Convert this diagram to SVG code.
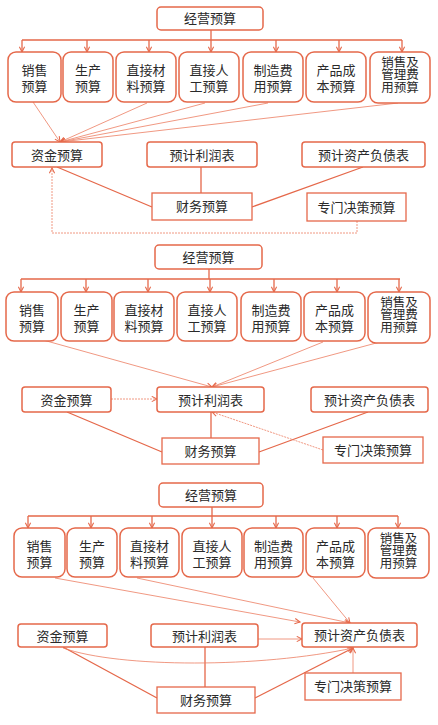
<svg xmlns="http://www.w3.org/2000/svg" width="438" height="725" viewBox="0 0 438 725">
<style>
.b{fill:#fff;stroke:#E5684A;stroke-width:1.5}
.s{fill:#fff;stroke:#E5684A;stroke-width:1.3}
.t{font-family:"Liberation Serif","Noto Sans CJK SC",serif;font-size:13px;fill:#2a2a2a;text-anchor:middle}
.t3{font-size:12.5px}
.c{fill:none;stroke:#E5684A;stroke-width:1.3}
.f{fill:none;stroke:#EC7E62;stroke-width:0.8}
.d{fill:none;stroke:#EC7E62;stroke-width:0.8;stroke-dasharray:2,1}
</style>
<defs>
<marker id="a" viewBox="0 0 8 8" refX="7" refY="4" markerWidth="7" markerHeight="7" orient="auto" markerUnits="userSpaceOnUse">
<path d="M1,1 L7,4 L1,7" fill="none" stroke="#E5684A" stroke-width="1.2"/>
</marker>
</defs>
<rect width="438" height="725" fill="#fff"/>

<!-- ===== Section 1 ===== -->
<g id="connectors1">
<path class="c" d="M211,30 V40 M22,40 H402"/>
<path class="c" marker-end="url(#a)" d="M22,40 V52"/>
<path class="c" marker-end="url(#a)" d="M87,40 V52"/>
<path class="c" marker-end="url(#a)" d="M149,40 V52"/>
<path class="c" marker-end="url(#a)" d="M211,40 V52"/>
<path class="c" marker-end="url(#a)" d="M276,40 V52"/>
<path class="c" marker-end="url(#a)" d="M339,40 V52"/>
<path class="c" marker-end="url(#a)" d="M402,40 V52"/>
<path class="f" marker-end="url(#a)" d="M33,102 L60,142"/>
<path class="f" marker-end="url(#a)" d="M147,103 L60,142"/>
<path class="f" marker-end="url(#a)" d="M205,103 L60,142"/>
<path class="f" marker-end="url(#a)" d="M268,103 L60,142"/>
<path class="f" marker-end="url(#a)" d="M398,103 L60,142"/>
<path class="c" d="M57,167 L152,207 M201,167 V193 M363,167 L252,207"/>
<path class="d" marker-end="url(#a)" d="M357,221 V233 H52 V168"/>
</g>
<g id="s1-top"><rect class="b" x="157" y="7" width="106" height="23" rx="4"/><text class="t" x="210" y="23">经营预算</text></g>
<g id="s1-n1"><rect class="b" x="8" y="52" width="53" height="50" rx="8"/><text class="t" x="34.5" y="75">销售<tspan x="34.5" dy="16">预算</tspan></text></g>
<g id="s1-n2"><rect class="b" x="63" y="52" width="50" height="50" rx="8"/><text class="t" x="88" y="75">生产<tspan x="88" dy="16">预算</tspan></text></g>
<g id="s1-n3"><rect class="b" x="116" y="52" width="60" height="50" rx="8"/><text class="t" x="146" y="75">直接材<tspan x="146" dy="16">料预算</tspan></text></g>
<g id="s1-n4"><rect class="b" x="179" y="52" width="60" height="50" rx="8"/><text class="t" x="209" y="75">直接人<tspan x="209" dy="16">工预算</tspan></text></g>
<g id="s1-n5"><rect class="b" x="243" y="52" width="60" height="50" rx="8"/><text class="t" x="273" y="75">制造费<tspan x="273" dy="16">用预算</tspan></text></g>
<g id="s1-n6"><rect class="b" x="306" y="52" width="60" height="50" rx="8"/><text class="t" x="336" y="75">产品成<tspan x="336" dy="16">本预算</tspan></text></g>
<g id="s1-n7"><rect class="b" x="370" y="52" width="60" height="51" rx="8"/><text class="t t3" x="400" y="66.5">销售及<tspan x="400" dy="12.7">管理费</tspan><tspan x="400" dy="12.7">用预算</tspan></text></g>
<g id="s1-zj"><rect class="b" x="12" y="142" width="90" height="25" rx="3"/><text class="t" x="57" y="159.5">资金预算</text></g>
<g id="s1-lr"><rect class="b" x="147" y="142" width="110" height="25" rx="3"/><text class="t" x="202" y="159.5">预计利润表</text></g>
<g id="s1-zc"><rect class="b" x="302" y="142" width="123" height="25" rx="3"/><text class="t" x="363.5" y="159.5">预计资产负债表</text></g>
<g id="s1-cw"><rect class="s" x="152" y="193" width="100" height="27"/><text class="t" x="202" y="211">财务预算</text></g>
<g id="s1-zm"><rect class="s" x="307" y="193" width="99" height="28"/><text class="t" x="356.5" y="212">专门决策预算</text></g>

<!-- ===== Section 2 ===== -->
<g id="connectors2">
<path class="c" d="M209,269 V279 M21,279 H400"/>
<path class="c" marker-end="url(#a)" d="M21,279 V292"/>
<path class="c" marker-end="url(#a)" d="M86,279 V292"/>
<path class="c" marker-end="url(#a)" d="M148,279 V292"/>
<path class="c" marker-end="url(#a)" d="M210,279 V292"/>
<path class="c" marker-end="url(#a)" d="M274,279 V292"/>
<path class="c" marker-end="url(#a)" d="M337,279 V292"/>
<path class="c" marker-end="url(#a)" d="M399,279 V292"/>
<path class="f" marker-end="url(#a)" d="M43,340 L212,387"/>
<path class="f" marker-end="url(#a)" d="M323,342 L212,387"/>
<path class="f" marker-end="url(#a)" d="M380,342 L212,387"/>
<path class="d" marker-end="url(#a)" d="M111,399 H157"/>
<path class="c" d="M67,412 L162,452 M211,438 V412 M368,412 L259,452"/>
<path class="d" marker-end="url(#a)" d="M323,450 L212,412"/>
</g>
<g id="s2-top"><rect class="b" x="155" y="245" width="107" height="24" rx="4"/><text class="t" x="208.5" y="261.5">经营预算</text></g>
<g id="s2-n1"><rect class="b" x="6" y="292" width="52" height="49" rx="8"/><text class="t" x="32" y="315">销售<tspan x="32" dy="16">预算</tspan></text></g>
<g id="s2-n2"><rect class="b" x="61" y="292" width="51" height="49" rx="8"/><text class="t" x="86.5" y="315">生产<tspan x="86.5" dy="16">预算</tspan></text></g>
<g id="s2-n3"><rect class="b" x="114" y="292" width="60" height="49" rx="8"/><text class="t" x="144" y="315">直接材<tspan x="144" dy="16">料预算</tspan></text></g>
<g id="s2-n4"><rect class="b" x="177" y="292" width="60" height="49" rx="8"/><text class="t" x="207" y="315">直接人<tspan x="207" dy="16">工预算</tspan></text></g>
<g id="s2-n5"><rect class="b" x="241" y="292" width="60" height="49" rx="8"/><text class="t" x="271" y="315">制造费<tspan x="271" dy="16">用预算</tspan></text></g>
<g id="s2-n6"><rect class="b" x="304" y="292" width="61" height="49" rx="8"/><text class="t" x="334.5" y="315">产品成<tspan x="334.5" dy="16">本预算</tspan></text></g>
<g id="s2-n7"><rect class="b" x="368" y="292" width="62" height="51" rx="8"/><text class="t t3" x="399" y="306.5">销售及<tspan x="399" dy="12.7">管理费</tspan><tspan x="399" dy="12.7">用预算</tspan></text></g>
<g id="s2-zj"><rect class="b" x="22" y="387" width="89" height="25" rx="3"/><text class="t" x="66.5" y="404.5">资金预算</text></g>
<g id="s2-lr"><rect class="b" x="157" y="387" width="107" height="25" rx="3"/><text class="t" x="210.5" y="404.5">预计利润表</text></g>
<g id="s2-zc"><rect class="b" x="311" y="387" width="117" height="25" rx="3"/><text class="t" x="369.5" y="404.5">预计资产负债表</text></g>
<g id="s2-cw"><rect class="s" x="162" y="438" width="97" height="26"/><text class="t" x="210.5" y="455.5">财务预算</text></g>
<g id="s2-zm"><rect class="s" x="323" y="437" width="100" height="26"/><text class="t" x="373" y="454.5">专门决策预算</text></g>

<!-- ===== Section 3 ===== -->
<g id="connectors3">
<path class="c" d="M212,507 V516 M28,516 H398"/>
<path class="c" marker-end="url(#a)" d="M28,516 V528"/>
<path class="c" marker-end="url(#a)" d="M91,516 V528"/>
<path class="c" marker-end="url(#a)" d="M152,516 V528"/>
<path class="c" marker-end="url(#a)" d="M212,516 V528"/>
<path class="c" marker-end="url(#a)" d="M276,516 V528"/>
<path class="c" marker-end="url(#a)" d="M337,516 V528"/>
<path class="c" marker-end="url(#a)" d="M398,516 V528"/>
<path class="f" marker-end="url(#a)" d="M55,578 L300,622"/>
<path class="f" marker-end="url(#a)" d="M137,578 L350,623"/>
<path class="f" marker-end="url(#a)" d="M313,578 L350,623"/>
<path class="f" marker-end="url(#a)" d="M258,639 H302"/>
<path class="c" d="M63,647 L157,698 M205,647 V687"/>
<path class="c" marker-end="url(#a)" d="M255,698 L353,648"/>
<path class="f" marker-end="url(#a)" d="M63,648 C120,668 260,668 353,648"/>
<path class="f" marker-end="url(#a)" d="M353,673 V648"/>
</g>
<g id="s3-top"><rect class="b" x="159" y="483" width="104" height="24" rx="4"/><text class="t" x="211" y="499.5">经营预算</text></g>
<g id="s3-n1"><rect class="b" x="14" y="528" width="51" height="49" rx="8"/><text class="t" x="39.5" y="551">销售<tspan x="39.5" dy="16">预算</tspan></text></g>
<g id="s3-n2"><rect class="b" x="67" y="528" width="50" height="49" rx="8"/><text class="t" x="92" y="551">生产<tspan x="92" dy="16">预算</tspan></text></g>
<g id="s3-n3"><rect class="b" x="120" y="528" width="59" height="49" rx="8"/><text class="t" x="149.5" y="551">直接材<tspan x="149.5" dy="16">料预算</tspan></text></g>
<g id="s3-n4"><rect class="b" x="182" y="528" width="60" height="49" rx="8"/><text class="t" x="212" y="551">直接人<tspan x="212" dy="16">工预算</tspan></text></g>
<g id="s3-n5"><rect class="b" x="244" y="528" width="59" height="49" rx="8"/><text class="t" x="273.5" y="551">制造费<tspan x="273.5" dy="16">用预算</tspan></text></g>
<g id="s3-n6"><rect class="b" x="306" y="528" width="59" height="49" rx="8"/><text class="t" x="335.5" y="551">产品成<tspan x="335.5" dy="16">本预算</tspan></text></g>
<g id="s3-n7"><rect class="b" x="368" y="528" width="61" height="50" rx="8"/><text class="t t3" x="398.5" y="542.5">销售及<tspan x="398.5" dy="12.7">管理费</tspan><tspan x="398.5" dy="12.7">用预算</tspan></text></g>
<g id="s3-zj"><rect class="b" x="18" y="624" width="89" height="23" rx="3"/><text class="t" x="62.5" y="640.5">资金预算</text></g>
<g id="s3-lr"><rect class="b" x="151" y="624" width="107" height="23" rx="3"/><text class="t" x="204.5" y="640.5">预计利润表</text></g>
<g id="s3-zc"><rect class="b" x="302" y="623" width="115" height="24" rx="3"/><text class="t" x="359.5" y="640">预计资产负债表</text></g>
<g id="s3-cw"><rect class="s" x="157" y="687" width="98" height="26"/><text class="t" x="206" y="704.5">财务预算</text></g>
<g id="s3-zm"><rect class="s" x="305" y="673" width="96" height="27"/><text class="t" x="353" y="691">专门决策预算</text></g>
</svg>
